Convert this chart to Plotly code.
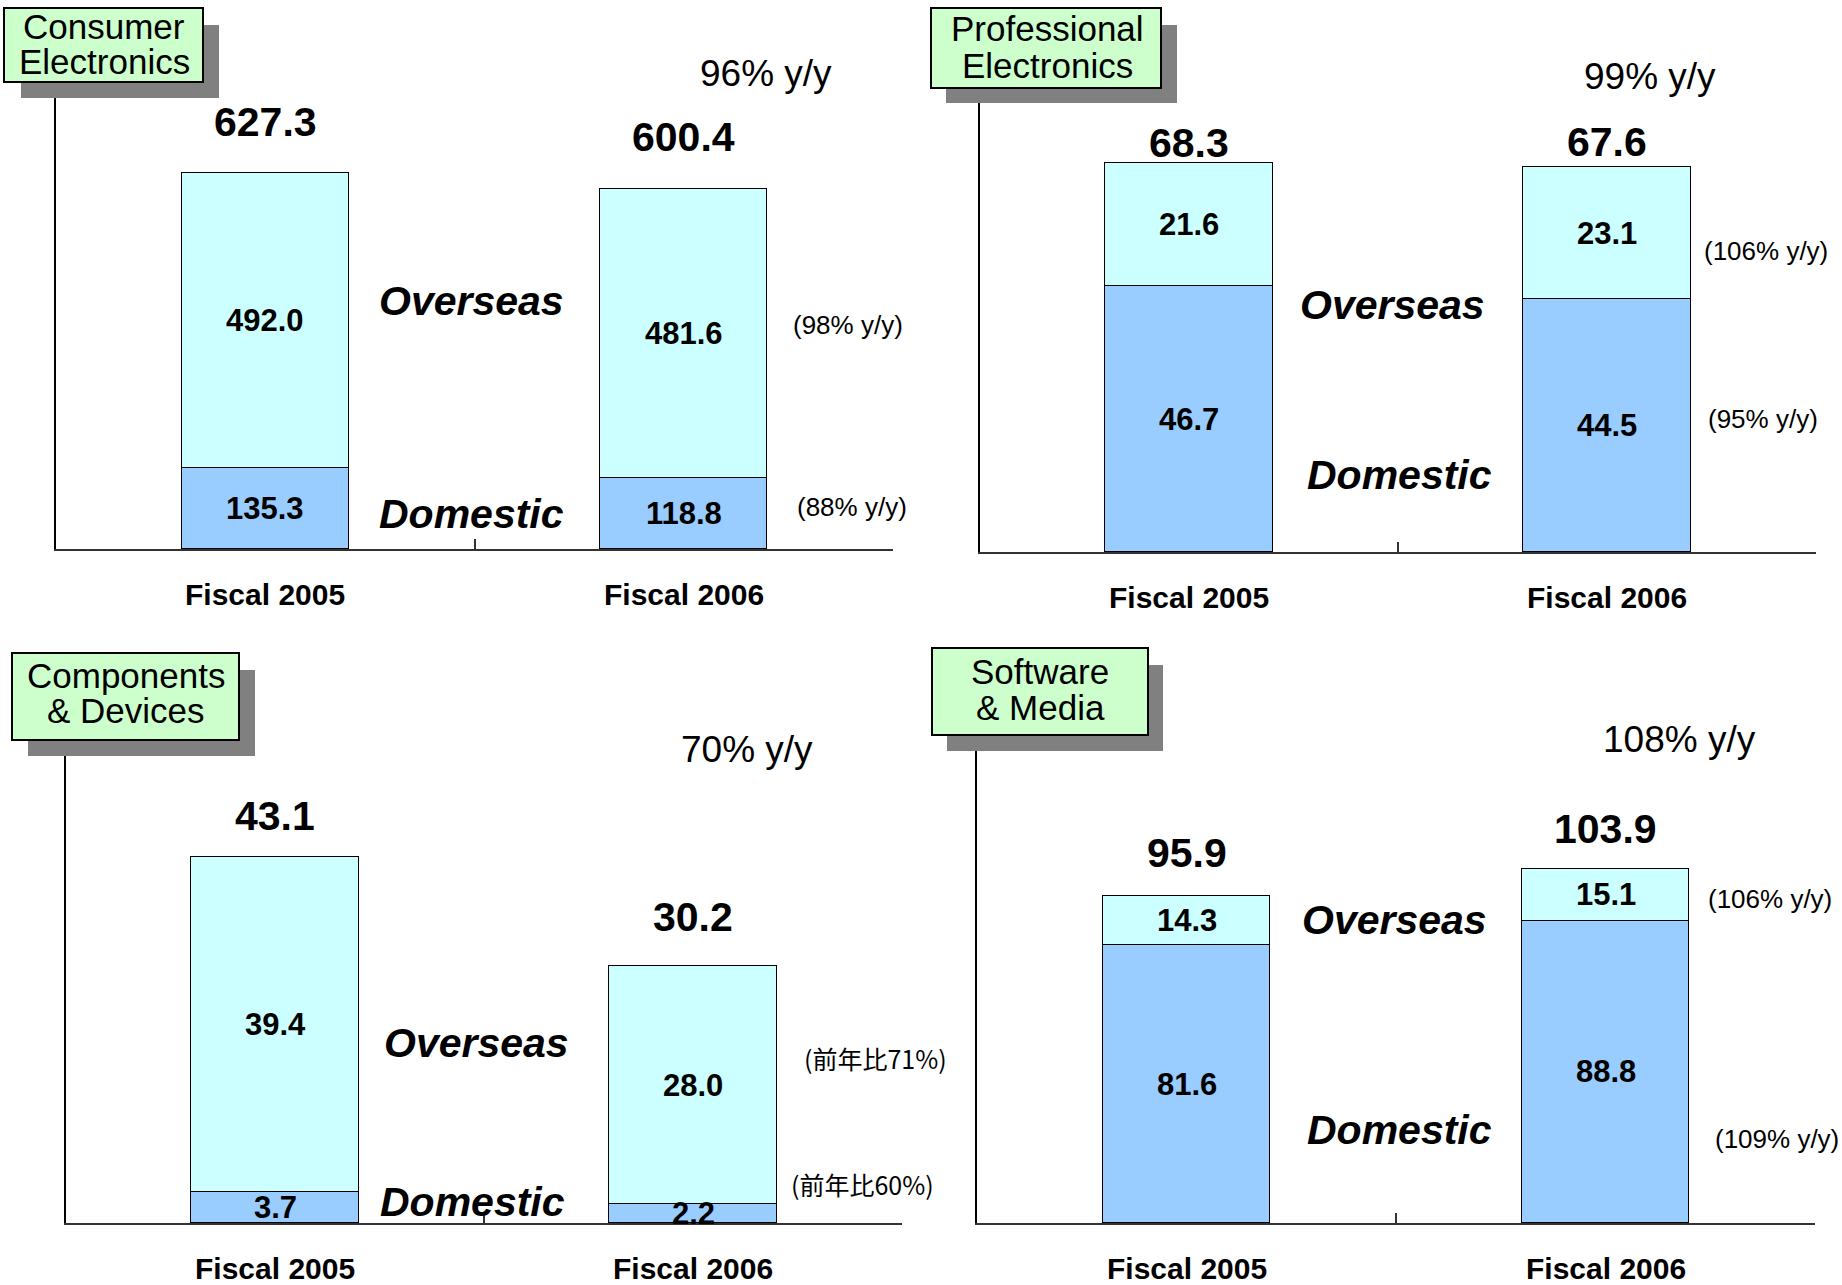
import plotly.graph_objects as go

# ---- data -------------------------------------------------------------
segments = ["Consumer Electronics", "Professional Electronics",
            "Components & Devices", "Software & Media"]
title_lines = [["Consumer", "Electronics"], ["Professional", "Electronics"],
               ["Components", "& Devices"], ["Software", "& Media"]]
years = ["Fiscal 2005", "Fiscal 2006"]

domestic_ce = [135.3, 118.8]
overseas_ce = [492.0, 481.6]
domestic_pe = [46.7, 44.5]
overseas_pe = [21.6, 23.1]
domestic_cd = [3.7, 2.2]
overseas_cd = [39.4, 28.0]
domestic_sm = [81.6, 88.8]
overseas_sm = [14.3, 15.1]

domestic = [domestic_ce, domestic_pe, domestic_cd, domestic_sm]
overseas = [overseas_ce, overseas_pe, overseas_cd, overseas_sm]

total_yoy = ["96% y/y", "99% y/y", "70% y/y", "108% y/y"]
overseas_yoy = ["(98% y/y)", "(106% y/y)", "(前年比71%)", "(106% y/y)"]
domestic_yoy = ["(88% y/y)", "(95% y/y)", "(前年比60%)", "(109% y/y)"]

# ---- page geometry (pixels) -------------------------------------------
W, H = 1842, 1285
# plot areas: left, right, top, bottom ; value shown at top of the axis
areas = [(56, 893, 98, 549, 751.7),
         (980, 1816, 103, 552, 78.9),
         (66, 902, 756, 1223, 54.94),
         (977, 1815, 751, 1223, 138.6)]
# title box (x0, y0, x1, y1), shadow box, line centres
boxes = [((4, 8, 203, 82), (21, 25, 219, 98), (104, 26, 61)),
         ((931, 8, 1161, 88), (946, 25, 1177, 103), (1047, 28, 65)),
         ((12, 653, 239, 740), (28, 670, 255, 756), (126, 675, 710)),
         ((932, 648, 1148, 735), (947, 665, 1163, 751), (1040, 671, 707))]
total_yoy_pos = [(766, 73), (1650, 76), (747, 749), (1679, 740)]
overseas_word_pos = [(471, 301), (1392, 305), (476, 1043), (1394, 920)]
domestic_word_pos = [(471, 514), (1399, 475), (472, 1202), (1399, 1130)]
overseas_yoy_pos = [(848, 325), (1766, 251), (875, 1058), (1770, 899)]
domestic_yoy_pos = [(852, 507), (1763, 419), (862, 1184), (1777, 1139)]
total_gap = [(51, 52), (20, 25), (41, 49), (43, 40)]

C_OVER = "#CCFFFF"
C_DOM = "#99CCFF"
C_BOX = "#CCFFCC"
C_SHADOW = "#808080"
FONT = "Liberation Sans, Arial, sans-serif"
CJK = "Noto Sans CJK JP, Liberation Sans, sans-serif"


def px(x, y):
    return x / W, 1 - y / H


def paper_text(pos, text, font):
    xp, yp = px(*pos)
    return dict(x=xp, y=yp, xref="paper", yref="paper", text=text,
                xanchor="center", yanchor="middle", showarrow=False, font=font)


fig = go.Figure()
annotations = []
shapes = []

for i in range(4):
    xa = "x" if i == 0 else f"x{i + 1}"
    ya = "y" if i == 0 else f"y{i + 1}"
    l, r, t, b, ymax = areas[i]
    dom = domestic[i]
    ovs = overseas[i]
    totals = [round(d + o, 1) for d, o in zip(dom, ovs)]

    fig.add_trace(go.Bar(x=years, y=dom, width=0.4, xaxis=xa, yaxis=ya,
                         marker=dict(color=C_DOM, line=dict(color="black", width=1.5)),
                         showlegend=False, hoverinfo="skip"))
    fig.add_trace(go.Bar(x=years, y=ovs, width=0.4, xaxis=xa, yaxis=ya,
                         marker=dict(color=C_OVER, line=dict(color="black", width=1.5)),
                         showlegend=False, hoverinfo="skip"))

    axis_x = dict(domain=[l / W, r / W], type="category", range=[-0.5, 1.5],
                  showline=True, linecolor="#333333", linewidth=2,
                  ticks="inside", tickson="boundaries", ticklen=10,
                  tickcolor="#333333", tickwidth=1.5,
                  showticklabels=False, showgrid=False, zeroline=False,
                  anchor=ya, fixedrange=True)
    axis_y = dict(domain=[1 - b / H, 1 - t / H], range=[0, ymax],
                  showline=True, linecolor="black", linewidth=1.5,
                  ticks="", showticklabels=False, showgrid=False,
                  zeroline=False, anchor=xa, fixedrange=True)
    key = "" if i == 0 else str(i + 1)
    fig.update_layout(**{f"xaxis{key}": axis_x, f"yaxis{key}": axis_y})

    # segment values inside the bars, totals above, year labels below
    for j, yr in enumerate(years):
        annotations.append(dict(x=yr, y=dom[j] / 2, xref=xa, yref=ya,
                                text=f"{dom[j]:.1f}", showarrow=False,
                                xanchor="center", yanchor="middle",
                                font=dict(family=FONT, size=31, color="black", weight="bold")))
        annotations.append(dict(x=yr, y=dom[j] + ovs[j] / 2, xref=xa, yref=ya,
                                text=f"{ovs[j]:.1f}", showarrow=False,
                                xanchor="center", yanchor="middle",
                                font=dict(family=FONT, size=31, color="black", weight="bold")))
        annotations.append(dict(x=yr, y=totals[j], xref=xa, yref=ya,
                                yshift=total_gap[i][j],
                                text=f"{totals[j]:.1f}", showarrow=False,
                                xanchor="center", yanchor="middle",
                                font=dict(family=FONT, size=41, color="black", weight="bold")))
        annotations.append(dict(x=yr, y=0, xref=xa, yref=ya, yshift=-45,
                                text=yr, showarrow=False,
                                xanchor="center", yanchor="middle",
                                font=dict(family=FONT, size=30, color="black", weight="bold")))

    # region words and growth rates
    word_font = dict(family=FONT, size=41, color="black", weight="bold", style="italic")
    annotations.append(paper_text(overseas_word_pos[i], "Overseas", word_font))
    annotations.append(paper_text(domestic_word_pos[i], "Domestic", word_font))
    annotations.append(paper_text(total_yoy_pos[i], total_yoy[i],
                                  dict(family=FONT, size=37, color="black")))
    for pos, txt in ((overseas_yoy_pos[i], overseas_yoy[i]),
                     (domestic_yoy_pos[i], domestic_yoy[i])):
        cjk = "前" in txt
        annotations.append(paper_text(pos, txt, dict(family=CJK if cjk else FONT,
                                                     size=25 if cjk else 26,
                                                     color="black")))

    # segment title box with drop shadow
    (bx0, by0, bx1, by1), (sx0, sy0, sx1, sy1), (cx, c1, c2) = boxes[i]
    shapes.append(dict(type="rect", xref="paper", yref="paper", layer="above",
                       x0=sx0 / W, x1=sx1 / W, y0=1 - sy1 / H, y1=1 - sy0 / H,
                       fillcolor=C_SHADOW, line=dict(width=0)))
    shapes.append(dict(type="rect", xref="paper", yref="paper", layer="above",
                       x0=bx0 / W, x1=bx1 / W, y0=1 - by1 / H, y1=1 - by0 / H,
                       fillcolor=C_BOX, line=dict(color="black", width=2)))
    for line_txt, cy in zip(title_lines[i], (c1, c2)):
        annotations.append(paper_text((cx, cy), line_txt,
                                      dict(family=FONT, size=35, color="black")))

fig.update_layout(width=W, height=H, margin=dict(l=0, r=0, t=0, b=0),
                  paper_bgcolor="white", plot_bgcolor="white",
                  barmode="stack", bargap=0, showlegend=False,
                  annotations=annotations, shapes=shapes)

fig.write_html("out.html", config={"displayModeBar": False})
